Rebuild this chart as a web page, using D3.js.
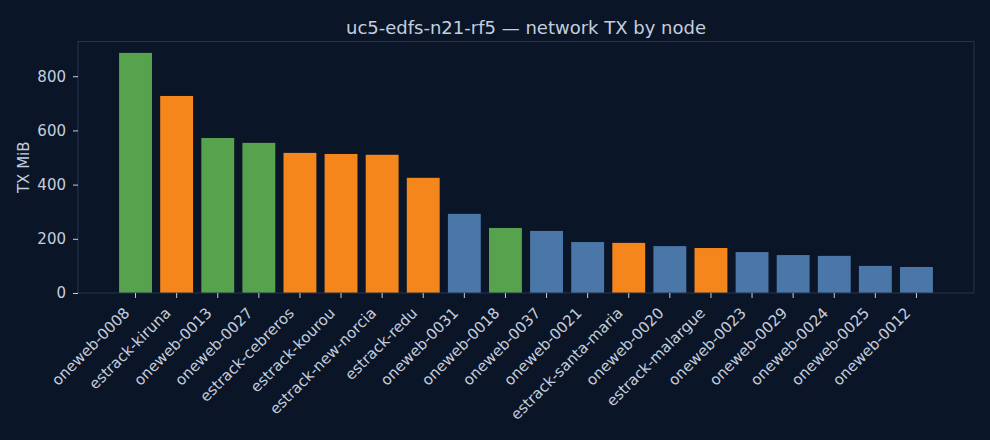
<!DOCTYPE html>
<html>
<head>
<meta charset="utf-8">
<script src="https://cdn.jsdelivr.net/npm/d3@7"></script>
<style>
  html, body { margin: 0; padding: 0; background: #0b1528; }
  svg { display: block; }
  text { font-family: "DejaVu Sans", sans-serif; fill: #c5cedd; }
</style>
</head>
<body>
<div id="container"></div>
<script>
// data
var nodes = ["oneweb-0008", "estrack-kiruna", "oneweb-0013", "oneweb-0027", "estrack-cebreros",
             "estrack-kourou", "estrack-new-norcia", "estrack-redu", "oneweb-0031", "oneweb-0018",
             "oneweb-0037", "oneweb-0021", "estrack-santa-maria", "oneweb-0020", "estrack-malargue",
             "oneweb-0023", "oneweb-0029", "oneweb-0024", "oneweb-0025", "oneweb-0012"];
var txMiB = [886, 727, 572, 554, 517, 513, 510, 425, 292, 240,
             229, 188, 185, 173, 166, 151, 140, 137, 100, 96];
var groups = ["g", "e", "g", "g", "e", "e", "e", "e", "s", "g",
              "s", "s", "e", "s", "e", "s", "s", "s", "s", "s"];
var yTicks = [0, 200, 400, 600, 800];

var W = 990, H = 440;
var m = {left: 78, right: 16, top: 41.5, bottom: 147};

var colour = {g: "#57a34d", e: "#f5861b", s: "#4a77a7"};

var svg = d3.select("#container").append("svg")
    .attr("width", W).attr("height", H);

var x = d3.scaleBand()
    .domain(nodes)
    .range([m.left, W - m.right])
    .paddingInner(0.2)
    .paddingOuter(1.0);

var y = d3.scaleLinear()
    .domain([0, 928])
    .range([H - m.bottom, m.top]);

// bars
svg.append("g").selectAll("rect")
    .data(nodes)
    .enter().append("rect")
    .attr("x", function (d) { return x(d); })
    .attr("width", x.bandwidth())
    .attr("y", function (d, i) { return y(txMiB[i]); })
    .attr("height", function (d, i) { return y(0) - y(txMiB[i]); })
    .attr("fill", function (d, i) { return colour[groups[i]]; });

// frame
svg.append("rect")
    .attr("x", m.left).attr("y", m.top)
    .attr("width", W - m.right - m.left)
    .attr("height", H - m.bottom - m.top)
    .attr("fill", "none")
    .attr("stroke", "#26344f")
    .attr("stroke-width", 1);

// y axis
var yAxis = svg.append("g")
    .attr("transform", "translate(" + m.left + ",0)")
    .call(d3.axisLeft(y).tickValues(yTicks).tickSize(5).tickPadding(7));
yAxis.select(".domain").remove();
yAxis.selectAll("line").attr("stroke", "#c5cedd");
yAxis.selectAll("text").style("font-size", "15px").attr("fill", "#c5cedd");

// x axis
var xAxis = svg.append("g")
    .attr("transform", "translate(0," + (H - m.bottom) + ")")
    .call(d3.axisBottom(x).tickSize(5).tickFormat(""));
xAxis.select(".domain").remove();
xAxis.selectAll("line").attr("stroke", "#c5cedd");

svg.append("g").selectAll("text")
    .data(nodes)
    .enter().append("text")
    .attr("transform", function (d) {
        return "translate(" + (x(d) + x.bandwidth() / 2 - 5) + "," + (H - m.bottom + 21) + ") rotate(-45)";
    })
    .attr("text-anchor", "end")
    .style("font-size", "15px")
    .text(function (d) { return d; });

// y label
svg.append("text")
    .attr("transform", "translate(28.5," + ((m.top + H - m.bottom) / 2) + ") rotate(-90)")
    .attr("text-anchor", "middle")
    .style("font-size", "15px")
    .text("TX MiB");

// title
svg.append("text")
    .attr("x", (m.left + W - m.right) / 2)
    .attr("y", 34)
    .attr("text-anchor", "middle")
    .style("font-size", "18px")
    .text("uc5-edfs-n21-rf5 — network TX by node");
</script>
</body>
</html>
